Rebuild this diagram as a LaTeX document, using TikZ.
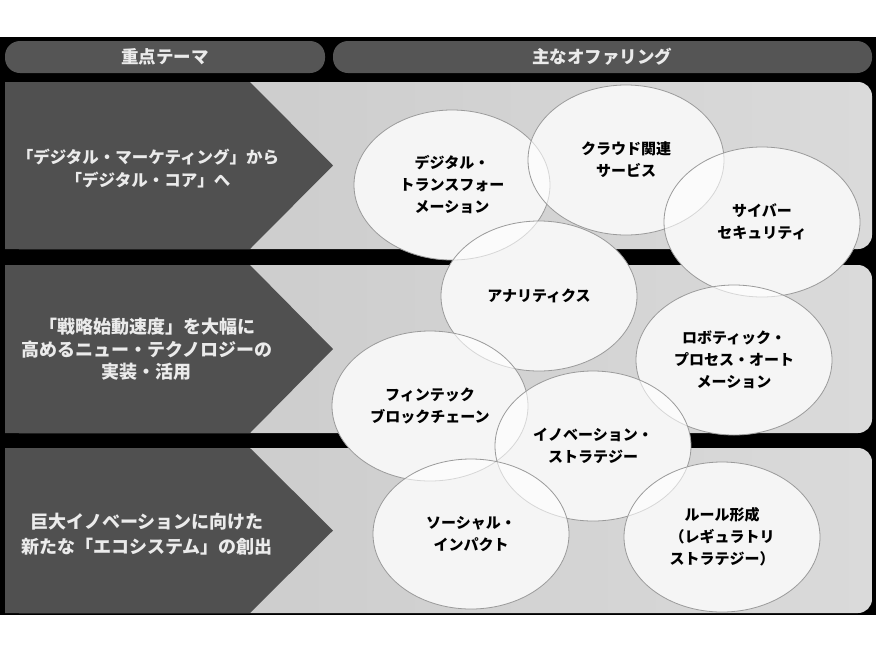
\documentclass[tikz,border=0pt]{standalone}
\usepackage{fontspec}
\newfontfamily\jp{Noto Sans CJK JP}
\usetikzlibrary{shapes.geometric}
\definecolor{darkfill}{HTML}{505050}
\definecolor{pillfill}{HTML}{555555}
\definecolor{bandL}{HTML}{C8C8C8}
\definecolor{bandR}{HTML}{DADADA}
\definecolor{lighttext}{HTML}{EBEBEB}
\definecolor{ebase}{HTML}{E8E8E8}
\definecolor{eline}{HTML}{9A9A9A}
\tikzset{
  pill/.style={fill=pillfill, rounded corners=15pt},
  band/.style={left color=bandL, right color=bandR, rounded corners=14pt},
  chevron/.style={fill=darkfill},
  headtext/.style={text=lighttext, font=\jp\bfseries\fontsize{17.5}{20}\selectfont},
  rowtext/.style={text=lighttext, align=center, inner sep=0pt},
  bubble/.style={ellipse, draw=eline, line width=0.8pt, fill=white, fill opacity=0.6,
    text opacity=1, minimum width=196pt, minimum height=150pt, inner sep=0pt,
    align=center, font=\jp\bfseries\fontsize{15}{22}\selectfont},
}
\begin{document}
\begin{tikzpicture}[x=1pt,y=-1pt]
\useasboundingbox (0,0) rectangle (876,657);
\fill[white] (0,0) rectangle (876,657);
\fill[black] (0,37) rectangle (876,615);
% header pills
\fill[pill] (5,41) rectangle (325,73);
\fill[pill] (333,41) rectangle (872,73);
\node[headtext] (h1) at (165,57) {重点テーマ};
\node[headtext] (h2) at (602,57) {主なオファリング};
% bands
\shade[band] (5,82) rectangle (872,249);
\shade[band] (5,265) rectangle (872,433);
\shade[band] (5,448) rectangle (872,613);
% chevrons
\fill[chevron] (5,82) -- (250,82) -- (333,165.5) -- (250,249) -- (5,249) -- cycle;
\fill[chevron] (5,265) -- (250,265) -- (333,349) -- (250,433) -- (5,433) -- cycle;
\fill[chevron] (5,448) -- (250,448) -- (333,530.5) -- (250,613) -- (5,613) -- cycle;
% row texts
\node[rowtext, font=\jp\bfseries\fontsize{16.5}{23}\selectfont] (r1) at (148,168.5)
  {「デジタル・マーケティング」から\\「デジタル・コア」へ};
\node[rowtext, font=\jp\bfseries\fontsize{18}{22.5}\selectfont] (r2) at (147,349.5)
  {「戦略始動速度」を大幅に\\高めるニュー・テクノロジーの\\実装・活用};
\node[rowtext, font=\jp\bfseries\fontsize{18}{25}\selectfont] (r3) at (147,534.5)
  {巨大イノベーションに向けた\\新たな「エコシステム」の創出};
% bubble bases
\foreach \cx/\cy in {452/185, 626/160, 762/222, 539/296, 734/360, 430/406, 593/446, 471/534, 722/537}
  \fill[ebase] (\cx,\cy) ellipse [x radius=98, y radius=75];
% bubbles
\node[bubble] (dx)  at (452,185) {デジタル・\\トランスフォー\\メーション};
\node[bubble] (cl)  at (626,160) {クラウド関連\\サービス};
\node[bubble] (cy)  at (762,222) {サイバー\\セキュリティ};
\node[bubble] (an)  at (539,296) {アナリティクス};
\node[bubble] (rpa) at (734,360) {ロボティック・\\プロセス・オート\\メーション};
\node[bubble] (fin) at (430,406) {フィンテック\\ブロックチェーン};
\node[bubble] (inn) at (593,446) {イノベーション・\\ストラテジー};
\node[bubble] (soc) at (471,534) {ソーシャル・\\インパクト};
\node[bubble] (rule) at (722,537) {ルール形成\\（レギュラトリ\\ストラテジー）};
\end{tikzpicture}
\end{document}
